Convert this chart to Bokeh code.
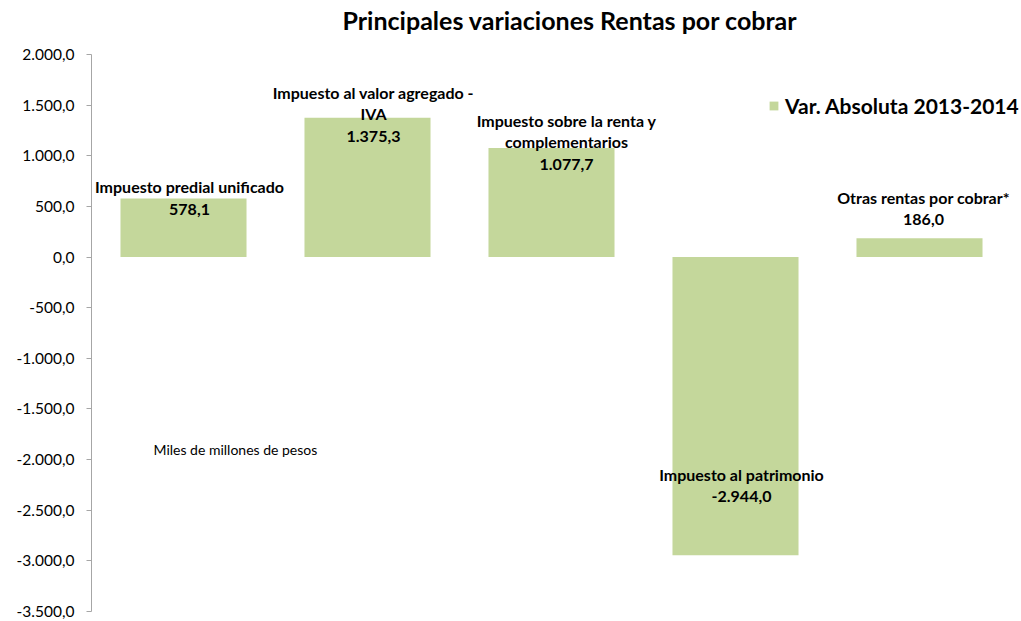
from bokeh.plotting import figure
from bokeh.models import (ColumnDataSource, Range1d, FixedTicker, Title,
                          CustomJSTickFormatter, Label, Legend, LegendItem)
from bokeh.core.properties import value
from bokeh.embed import file_html
from bokeh.resources import INLINE

# ---- data ----
categories = ["Impuesto predial unificado",
              "Impuesto al valor agregado - IVA",
              "Impuesto sobre la renta y complementarios",
              "Impuesto al patrimonio",
              "Otras rentas por cobrar*"]
label_names = ["Impuesto predial unificado",
               "Impuesto al valor agregado -\nIVA",
               "Impuesto sobre la renta y\ncomplementarios",
               "Impuesto al patrimonio",
               "Otras rentas por cobrar*"]
values = [578.1, 1375.3, 1077.7, -2944.0, 186.0]
series_name = "Var. Absoluta 2013-2014"
title_text = "Principales variaciones Rentas por cobrar"
unit_note = "Miles de millones de pesos"
y_ticks = [-3500, -3000, -2500, -2000, -1500, -1000, -500, 0, 500, 1000, 1500, 2000]

# label placement (screen pixels; y negative = up)
label_x_offsets = [6, 6, 15, 6, 4]
label_y_offsets = [-1, -4, -6, -70, -30]

FONT = "Lato"
BAR = "#c4d79b"


def fmt(v):
    s = f"{v:,.1f}"
    return s.replace(",", "X").replace(".", ",").replace("X", ".")


xpos = list(range(len(categories)))
labels = [f"{n}\n{fmt(v)}" for n, v in zip(label_names, values)]
src = ColumnDataSource(dict(x=xpos, cat=categories, val=values, label=labels,
                            xoff=label_x_offsets, yoff=label_y_offsets))

p = figure(x_range=Range1d(-0.5, len(categories) - 0.5 + 0.0435),
           y_range=Range1d(-3500, 2000),
           width=1021, height=621, output_backend="svg", toolbar_location=None,
           min_border_left=91, min_border_right=2, min_border_top=54, min_border_bottom=10)
p.title = None

r = p.vbar(x="x", top="val", bottom=0, width=0.685, source=src,
           fill_color=BAR, line_color=None)

p.text(x="x", y="val", text="label", x_offset="xoff", y_offset="yoff", source=src,
       text_align="center", text_baseline="middle", text_font=value(FONT),
       text_font_style="bold", text_font_size="16px", text_line_height=1.12,
       text_color="black")

p.xaxis.visible = False
p.xgrid.visible = False
p.ygrid.visible = False
p.outline_line_color = None
p.background_fill_color = "white"
p.border_fill_color = "white"

ya = p.yaxis[0]
ya.ticker = FixedTicker(ticks=y_ticks)
ya.formatter = CustomJSTickFormatter(code="""
const s = Math.abs(tick).toFixed(1).split('.');
const ip = s[0].replace(/\\B(?=(\\d{3})+(?!\\d))/g, '.');
return (tick < 0 ? '-' : '') + ip + ',' + s[1];
""")
ya.major_label_text_font = FONT
ya.major_label_text_font_size = "15.5px"
ya.major_label_text_color = "black"
ya.axis_line_color = "#a6a6a6"
ya.major_tick_line_color = "#a6a6a6"
ya.major_tick_out = 5
ya.major_tick_in = 0
ya.minor_tick_line_color = None
ya.major_label_standoff = 12

# spacer panel between frame and title (closest to frame)
spacer = Title(text=" ", text_font_size="2px", standoff=16)
p.add_layout(spacer, "above")

main_title = Title(text=title_text, align="left", offset=251, standoff=0,
                   text_font=FONT, text_font_size="25px", text_font_style="bold",
                   text_color="black")
p.add_layout(main_title, "above")

note = Label(x=62, x_units="screen", y=-1900, text=unit_note,
             text_font=FONT, text_font_size="14px", text_baseline="middle",
             text_color="black")
p.add_layout(note)

legend = Legend(items=[LegendItem(label=series_name, renderers=[r])],
                location=(677, 493), border_line_color=None,
                background_fill_alpha=0, padding=0, margin=0,
                glyph_width=11, glyph_height=11, label_standoff=6,
                label_text_font=FONT, label_text_font_size="21px",
                label_text_font_style="bold", label_text_color="black")
p.add_layout(legend)

open("out.html", "w").write(file_html(p, INLINE))
